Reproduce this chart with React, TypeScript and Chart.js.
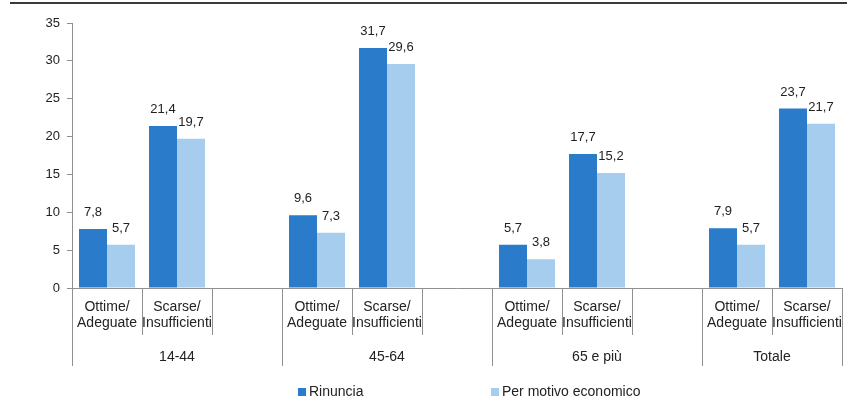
import React, { useEffect, useRef } from "react";
import { Chart, registerables } from "chart.js";

Chart.register(...registerables);

const groups = ["14-44", "45-64", "65 e più", "Totale"];
const subLabels = [
  ["Ottime/", "Adeguate"],
  ["Scarse/", "Insufficienti"],
];
const rinuncia = [7.8, 21.4, 9.6, 31.7, 5.7, 17.7, 7.9, 23.7];
const economico = [5.7, 19.7, 7.3, 29.6, 3.8, 15.2, 5.7, 21.7];
const seriesNames = ["Rinuncia", "Per motivo economico"];
const yMin = 0;
const yMax = 35;
const yStep = 5;

const DARK = "#2a7bc9";
const LIGHT = "#a6cdee";
const TEXT = "#222222";
const AXIS = "#8f8f8f";
const FONT = "'Liberation Sans', Arial, sans-serif";

// Build slots: two sub-categories per group, with an empty slot between groups
type Slot = { group: number; sub: number };
const slots: Slot[] = [];
groups.forEach((_, g) => {
  subLabels.forEach((__, s) => slots.push({ group: g, sub: s }));
  if (g < groups.length - 1) slots.push({ group: -1, sub: -1 });
});
const labels = slots.map((s) => (s.sub >= 0 ? subLabels[s.sub].join(" ") : ""));
const toSlotData = (arr: number[]) =>
  slots.map((s) => (s.sub >= 0 ? arr[s.group * subLabels.length + s.sub] : null));

const fmt = (v: number) => v.toFixed(1).replace(".", ",");

const decorPlugin = {
  id: "decor",
  afterDatasetsDraw(chart: any) {
    const ctx = chart.ctx;
    ctx.save();
    ctx.font = `13px ${FONT}`;
    ctx.fillStyle = TEXT;
    ctx.textAlign = "center";
    ctx.textBaseline = "alphabetic";
    chart.data.datasets.forEach((ds: any, di: number) => {
      const meta = chart.getDatasetMeta(di);
      meta.data.forEach((el: any, i: number) => {
        const v = ds.data[i];
        if (v === null || v === undefined) return;
        ctx.fillText(fmt(v), el.x, el.y - 13);
      });
    });
    ctx.restore();
  },
  afterDraw(chart: any) {
    const ctx = chart.ctx;
    const xs = chart.scales.x;
    const area = chart.chartArea;
    const n = slots.length;
    const w = (xs.right - xs.left) / n;
    const edge = (k: number) => xs.left + k * w;

    ctx.save();
    // top rule
    ctx.strokeStyle = "#3a3a3a";
    ctx.lineWidth = 2;
    ctx.beginPath();
    ctx.moveTo(10, 3);
    ctx.lineTo(chart.width, 3);
    ctx.stroke();

    // separators
    ctx.strokeStyle = AXIS;
    ctx.lineWidth = 1;
    for (let k = 0; k <= n; k++) {
      const isLong = k === 0 || k === n || slots[k].sub === 0;
      const x = Math.round(edge(k)) + 0.5;
      ctx.beginPath();
      ctx.moveTo(x, area.bottom);
      ctx.lineTo(x, area.bottom + (isLong ? 78 : 47));
      ctx.stroke();
    }

    // sub labels
    ctx.fillStyle = TEXT;
    ctx.font = `14px ${FONT}`;
    ctx.textAlign = "center";
    ctx.textBaseline = "middle";
    slots.forEach((s, i) => {
      if (s.sub < 0) return;
      const cx = xs.getPixelForValue(i);
      subLabels[s.sub].forEach((line, li) => {
        ctx.fillText(line, cx, area.bottom + 19 + li * 16.5);
      });
    });

    // group labels
    groups.forEach((g, gi) => {
      const start = slots.findIndex((s) => s.group === gi);
      let end = start + 1;
      while (end < n && slots[end].sub !== 0) end++;
      const cx = (edge(start) + edge(end)) / 2;
      ctx.fillText(g, cx, area.bottom + 69);
    });

    // legend
    const ly = 392;
    const items = [
      { x: 298, color: DARK, text: seriesNames[0] },
      { x: 491, color: LIGHT, text: seriesNames[1] },
    ];
    ctx.textAlign = "left";
    items.forEach((it) => {
      ctx.fillStyle = it.color;
      ctx.fillRect(it.x, ly - 4, 8, 8);
      ctx.fillStyle = TEXT;
      ctx.fillText(it.text, it.x + 11, ly);
    });
    ctx.restore();
  },
};

export default function App() {
  const ref = useRef<HTMLCanvasElement | null>(null);
  useEffect(() => {
    if (!ref.current) return;
    const chart = new Chart(ref.current, {
      type: "bar",
      data: {
        labels,
        datasets: [
          { label: seriesNames[0], data: toSlotData(rinuncia), backgroundColor: DARK, categoryPercentage: 0.8, barPercentage: 1 },
          { label: seriesNames[1], data: toSlotData(economico), backgroundColor: LIGHT, categoryPercentage: 0.8, barPercentage: 1 },
        ],
      },
      options: {
        animation: false,
        responsive: true,
        maintainAspectRatio: false,
        layout: { padding: { top: 23, right: 5, left: 0, bottom: 0 } },
        plugins: { legend: { display: false }, tooltip: { enabled: false } },
        scales: {
          x: {
            grid: { display: false },
            border: { display: true, color: AXIS },
            ticks: { display: false },
            afterFit: (s: any) => {
              s.height = 114;
            },
          },
          y: {
            min: yMin,
            max: yMax,
            ticks: { stepSize: yStep, color: TEXT, font: { size: 13, family: FONT }, padding: 7 },
            grid: { display: true, drawOnChartArea: false, drawTicks: true, tickLength: 5, color: AXIS },
            border: { display: true, color: AXIS },
            afterFit: (s: any) => {
              s.width = 72;
            },
          },
        },
      },
      plugins: [decorPlugin],
    });
    return () => chart.destroy();
  }, []);
  return (
    <div style={{ position: "fixed", left: 0, top: 0, width: 847, height: 402, background: "#fff" }}>
      <canvas ref={ref} />
    </div>
  );
}
